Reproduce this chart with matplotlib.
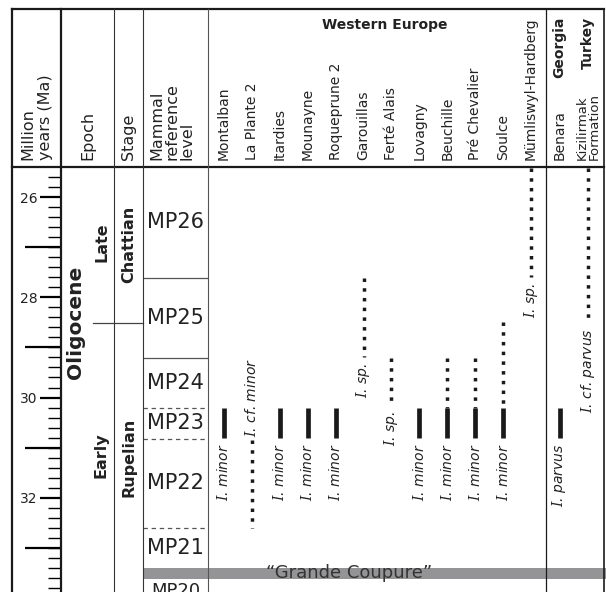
import matplotlib.pyplot as plt

plt.rcParams['font.family'] = 'DejaVu Sans'
plt.rcParams['mathtext.fontset'] = 'dejavuserif'

# time scale (Ma), top and bottom of the chart body
age_top, age_bottom = 25.40, 33.88
age_labelled = [26, 28, 30, 32]
age_long = [27, 29, 31, 33]
age_minor = [25.6 + 0.2 * k for k in range(42)]

# mammal reference levels
mp_names = ['MP26', 'MP25', 'MP24', 'MP23', 'MP22', 'MP21']
mp_upper = [25.40, 27.61, 29.22, 30.21, 30.82, 32.61]
mp_lower = [27.61, 29.22, 30.21, 30.82, 32.61, 33.40]
mp_solid_bounds = [27.61, 29.22]
mp_dashed_bounds = [30.21, 30.82, 32.61]
stage_bound = 28.51
coupure_top, coupure_base = 33.40, 33.62

# localities and their ranges (Ma)
sites = ['Montalban', 'La Plante 2', 'Itardies', 'Mounayne', 'Roqueprune 2',
         'Garouillas', 'Ferté Alais', 'Lovagny', 'Beuchille', 'Pré Chevalier',
         'Soulce', 'Mümliswyl-Hardberg', 'Benara', 'Kizilirmak\nFormation']
solid_from = [30.21, None, 30.21, 30.21, 30.21, None, None, 30.21, 30.21, 30.21, 30.21, None, 30.21, None]
solid_to = [30.81, None, 30.81, 30.81, 30.81, None, None, 30.81, 30.81, 30.81, 30.81, None, 30.81, None]
dotted_from = [None, 30.84, None, None, None, 27.62, 29.22, None, 29.22, 29.22, 28.50, 25.42, None, 25.42]
dotted_to = [None, 32.60, None, None, None, 29.20, 30.16, None, 30.21, 30.21, 30.21, 27.60, None, 28.50]
taxa = ['minor', 'cf. minor', 'minor', 'minor', 'minor', 'sp.', 'sp.', 'minor',
        'minor', 'minor', 'minor', 'sp.', 'parvus', 'cf. parvus']
label_above = [False, True] + [False] * 12

site_x = [224.0 + 27.9 * i for i in range(12)] + [559.5, 588.0]

fig = plt.figure(figsize=(6.06, 5.92), dpi=100)

# chart body: x in layout units, y in Ma
ax = fig.add_axes([61 / 606, 0, 545 / 606, 425 / 592])
ax.set_xlim(61, 606)
ax.set_ylim(age_bottom, age_top)
ax.patch.set_visible(False)
for s in ax.spines.values():
    s.set_visible(False)
ax.xaxis.set_visible(False)
ax.set_yticks(age_labelled)
ax.set_yticklabels([str(a) for a in age_labelled])
ax.set_yticks(age_minor, minor=True)
ax.tick_params(axis='y', which='major', direction='out', length=15, width=1.6,
               pad=2, labelsize=10, labelcolor='#222222')
ax.tick_params(axis='y', which='minor', direction='out', length=9.4, width=1.0)

ax_long = ax.twinx()
ax_long.set_ylim(age_bottom, age_top)
ax_long.yaxis.tick_left()
ax_long.set_yticks(age_long)
ax_long.set_yticklabels([])
ax_long.set_yticks([], minor=True)
ax_long.tick_params(axis='y', which='major', direction='out', length=26, width=1.6)
ax_long.xaxis.set_visible(False)
for s in ax_long.spines.values():
    s.set_visible(False)
ax_long.patch.set_visible(False)

# epoch / stage
ax.text(75.5, stage_bound, 'Oligocene', rotation=90, ha='center', va='center',
        fontsize=14.5, fontweight='bold', color='#222222')
ax.text(101.5, 26.90, 'Late', rotation=90, ha='center', va='center',
        fontsize=11.5, fontweight='bold', color='#222222')
ax.text(101.5, 31.15, 'Early', rotation=90, ha='center', va='center',
        fontsize=11.5, fontweight='bold', color='#222222')
ax.text(128.5, 26.95, 'Chattian', rotation=90, ha='center', va='center',
        fontsize=11.5, fontweight='bold', color='#222222')
ax.text(128.5, 31.20, 'Rupelian', rotation=90, ha='center', va='center',
        fontsize=11.5, fontweight='bold', color='#222222')
ax.plot([93, 143], [stage_bound, stage_bound], color='#444444', lw=0.9)

# MP levels
for name, up, lo in zip(mp_names, mp_upper, mp_lower):
    ax.text(175.5, (up + lo) / 2, name, ha='center', va='center',
            fontsize=15, color='#222222')
ax.text(175.5, coupure_base + 0.07, 'MP20', ha='center', va='top',
        fontsize=13, color='#222222')
ax.hlines(mp_solid_bounds, 143, 208, color='#555555', lw=0.9)
ax.hlines(mp_dashed_bounds, 143, 208, color='#555555', lw=0.9,
          linestyles=(0, (3.5, 3)))

# Grande Coupure
ax.fill_between([143, 606], coupure_top, coupure_base, color='#949496', lw=0)
ax.text(349, 33.60, '\u201cGrande Coupure\u201d', ha='center', va='baseline',
        fontsize=13, color='#333333', zorder=5)

# ranges with taxon labels
for i, x in enumerate(site_x):
    ends = []
    if dotted_from[i] is not None:
        ax.plot([x, x], [dotted_from[i], dotted_to[i]], color='#1a1a1a', lw=2.5,
                linestyle=(0, (1, 1.8)), dash_capstyle='butt')
        ends += [dotted_from[i], dotted_to[i]]
    if solid_from[i] is not None:
        ax.plot([x, x], [solid_from[i], solid_to[i]], color='#1a1a1a', lw=3.4,
                solid_capstyle='butt')
        ends += [solid_from[i], solid_to[i]]
    label = r'$I$. ' + taxa[i]
    if label_above[i]:
        ax.annotate(label, (x, min(ends)), xytext=(0, 2), textcoords='offset points',
                    rotation=90, ha='center', va='bottom', fontsize=10,
                    style='italic', color='#222222')
    else:
        ax.annotate(label, (x, max(ends)), xytext=(0, -4), textcoords='offset points',
                    rotation=90, ha='center', va='top', fontsize=10,
                    style='italic', color='#222222')

# frame and header, in pixel-like layout units
cv = fig.add_axes([0, 0, 1, 1])
cv.set_xlim(0, 606)
cv.set_ylim(592, 0)
cv.axis('off')
cv.patch.set_visible(False)

cv.plot([12, 604], [9, 9], color='#1a1a1a', lw=1.6)
cv.plot([12, 604], [167, 167], color='#1a1a1a', lw=1.6)
cv.plot([12, 12], [9, 592], color='#1a1a1a', lw=1.6)
cv.plot([61, 61], [9, 592], color='#1a1a1a', lw=1.6)
cv.plot([114, 114], [9, 592], color='#333333', lw=0.8)
cv.plot([143, 143], [9, 592], color='#333333', lw=0.8)
cv.plot([208, 208], [9, 592], color='#555555', lw=0.8)
cv.plot([546, 546], [9, 592], color='#1a1a1a', lw=0.9)
cv.plot([604, 604], [9, 592], color='#1a1a1a', lw=1.2)

head = dict(rotation=90, ha='center', va='bottom', multialignment='left',
            color='#222222')
cv.text(36.5, 160, 'Million\nyears (Ma)', fontsize=11.5, **head)
cv.text(87.5, 160, 'Epoch', fontsize=11.5, **head)
cv.text(128.5, 160, 'Stage', fontsize=11.5, **head)
cv.text(172, 160, 'Mammal\nreference\nlevel', fontsize=11.5, linespacing=1.0, **head)
for name, x in zip(sites, site_x):
    cv.text(x, 160, name, fontsize=10 if '\n' not in name else 9.5,
            linespacing=0.9, **head)

cv.text(385, 25, 'Western Europe', ha='center', va='center', fontsize=10,
        fontweight='bold', color='#222222')
cv.text(site_x[12], 17, 'Georgia', rotation=90, ha='center', va='top',
        fontsize=10, fontweight='bold', color='#222222')
cv.text(site_x[13], 17, 'Turkey', rotation=90, ha='center', va='top',
        fontsize=10, fontweight='bold', color='#222222')

fig.savefig('out.png', dpi=100)
